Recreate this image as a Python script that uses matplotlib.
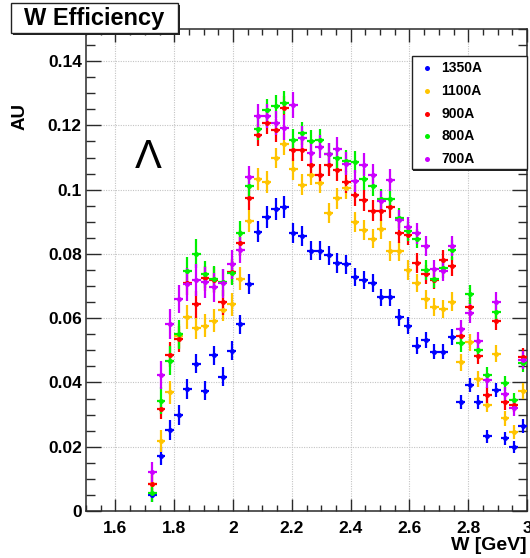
import matplotlib
matplotlib.use("Agg")
import matplotlib.pyplot as plt
from matplotlib.patches import Rectangle
from matplotlib.lines import Line2D
from matplotlib.ticker import MultipleLocator, FixedLocator

plt.rcParams['font.family'] = ['Liberation Sans', 'DejaVu Sans']

# ---- data -------------------------------------------------------------
w_centers = [1.725, 1.755, 1.785, 1.815, 1.845, 1.875, 1.905, 1.935, 1.965, 1.995,
             2.025, 2.055, 2.085, 2.115, 2.145, 2.175, 2.205, 2.235, 2.265, 2.295,
             2.325, 2.355, 2.385, 2.415, 2.445, 2.475, 2.505, 2.535, 2.565, 2.595,
             2.625, 2.655, 2.685, 2.715, 2.745, 2.775, 2.805, 2.835, 2.865, 2.895,
             2.925, 2.955, 2.985]
bin_half_width = 0.015

series_labels = ["1350A", "1100A", "900A", "800A", "700A"]
series_colors = ["#0000ff", "#ffc400", "#ff0000", "#00f000", "#cc00ff"]

eff_1350 = [0.0050, 0.0172, 0.0252, 0.0299, 0.0380, 0.0458, 0.0374, 0.0484, 0.0418, 0.0499,
            0.0581, 0.0705, 0.0869, 0.0915, 0.0939, 0.0947, 0.0866, 0.0855, 0.0810, 0.0810,
            0.0796, 0.0772, 0.0768, 0.0729, 0.0719, 0.0710, 0.0665, 0.0665, 0.0603, 0.0577,
            0.0515, 0.0532, 0.0496, 0.0496, 0.0542, 0.0340, 0.0392, 0.0340, 0.0232, 0.0376,
            0.0226, 0.0200, 0.0265]
eff_1100 = [0.0085, 0.0218, 0.0369, 0.0544, 0.0603, 0.0570, 0.0576, 0.0592, 0.0627, 0.0643,
            0.0723, 0.0903, 0.1032, 0.1024, 0.1099, 0.1141, 0.1064, 0.1015, 0.1047, 0.1022,
            0.0928, 0.0973, 0.1004, 0.0900, 0.0874, 0.0848, 0.0877, 0.0809, 0.0808, 0.0750,
            0.0710, 0.0659, 0.0635, 0.0628, 0.0651, 0.0463, 0.0525, 0.0411, 0.0330, 0.0490,
            0.0288, 0.0246, 0.0373]
eff_900 = [0.0084, 0.0317, 0.0487, 0.0535, 0.0711, 0.0644, 0.0724, 0.0718, 0.0649, 0.0745,
           0.0835, 0.0973, 0.1170, 0.1208, 0.1185, 0.1254, 0.1123, 0.1123, 0.1077, 0.1047,
           0.1078, 0.1061, 0.1024, 0.0983, 0.0967, 0.0934, 0.0935, 0.0945, 0.0864, 0.0858,
           0.0772, 0.0737, 0.0719, 0.0781, 0.0762, 0.0545, 0.0635, 0.0483, 0.0361, 0.0592,
           0.0338, 0.0330, 0.0480]
eff_800 = [0.0055, 0.0343, 0.0467, 0.0550, 0.0746, 0.0801, 0.0736, 0.0722, 0.0712, 0.0742,
           0.0864, 0.1010, 0.1190, 0.1249, 0.1260, 0.1271, 0.1155, 0.1175, 0.1150, 0.1154,
           0.1110, 0.1097, 0.1090, 0.1085, 0.1032, 0.1012, 0.0970, 0.0970, 0.0912, 0.0870,
           0.0848, 0.0750, 0.0722, 0.0755, 0.0812, 0.0523, 0.0674, 0.0501, 0.0423, 0.0618,
           0.0397, 0.0345, 0.0460]
eff_700 = [0.0120, 0.0423, 0.0581, 0.0659, 0.0705, 0.0718, 0.0712, 0.0696, 0.0708, 0.0768,
           0.0812, 0.1039, 0.1229, 0.1230, 0.1208, 0.1193, 0.1263, 0.1161, 0.1115, 0.1133,
           0.1110, 0.1128, 0.1081, 0.1026, 0.1078, 0.1045, 0.0964, 0.1030, 0.0905, 0.0884,
           0.0864, 0.0825, 0.0752, 0.0747, 0.0825, 0.0565, 0.0615, 0.0530, 0.0407, 0.0651,
           0.0364, 0.0319, 0.0470]

err_1350 = [0.0022, 0.0028, 0.0030, 0.0030, 0.0030, 0.0030, 0.0030, 0.0030, 0.0030, 0.0030,
            0.0030, 0.0031, 0.0033, 0.0033, 0.0034, 0.0034, 0.0031, 0.0031, 0.0030, 0.0030,
            0.0030, 0.0030, 0.0030, 0.0028, 0.0028, 0.0028, 0.0027, 0.0027, 0.0026, 0.0026,
            0.0025, 0.0025, 0.0024, 0.0024, 0.0025, 0.0022, 0.0023, 0.0022, 0.0020, 0.0022,
            0.0020, 0.0019, 0.0021]
err_1100 = [0.0026, 0.0034, 0.0036, 0.0038, 0.0038, 0.0036, 0.0036, 0.0036, 0.0036, 0.0036,
            0.0036, 0.0034, 0.0034, 0.0034, 0.0032, 0.0034, 0.0033, 0.0033, 0.0033, 0.0033,
            0.0032, 0.0032, 0.0032, 0.0031, 0.0031, 0.0031, 0.0031, 0.0030, 0.0030, 0.0030,
            0.0029, 0.0029, 0.0028, 0.0028, 0.0029, 0.0026, 0.0027, 0.0025, 0.0023, 0.0027,
            0.0022, 0.0021, 0.0025]
err_900 = [0.0028, 0.0030, 0.0038, 0.0040, 0.0040, 0.0042, 0.0040, 0.0040, 0.0040, 0.0040,
           0.0040, 0.0036, 0.0034, 0.0036, 0.0036, 0.0036, 0.0035, 0.0035, 0.0035, 0.0034,
           0.0034, 0.0034, 0.0034, 0.0033, 0.0033, 0.0033, 0.0032, 0.0032, 0.0031, 0.0031,
           0.0030, 0.0030, 0.0029, 0.0030, 0.0030, 0.0027, 0.0028, 0.0026, 0.0024, 0.0028,
           0.0023, 0.0023, 0.0026]
err_800 = [0.0028, 0.0042, 0.0045, 0.0045, 0.0045, 0.0045, 0.0042, 0.0042, 0.0042, 0.0040,
           0.0037, 0.0036, 0.0035, 0.0034, 0.0036, 0.0036, 0.0035, 0.0035, 0.0035, 0.0035,
           0.0034, 0.0034, 0.0034, 0.0034, 0.0033, 0.0033, 0.0032, 0.0032, 0.0031, 0.0031,
           0.0031, 0.0030, 0.0029, 0.0030, 0.0030, 0.0027, 0.0029, 0.0026, 0.0024, 0.0029,
           0.0024, 0.0023, 0.0026]
err_700 = [0.0032, 0.0044, 0.0047, 0.0044, 0.0050, 0.0050, 0.0048, 0.0046, 0.0046, 0.0045,
           0.0040, 0.0034, 0.0038, 0.0038, 0.0038, 0.0038, 0.0040, 0.0037, 0.0036, 0.0036,
           0.0036, 0.0036, 0.0035, 0.0034, 0.0035, 0.0034, 0.0033, 0.0034, 0.0032, 0.0032,
           0.0032, 0.0031, 0.0030, 0.0030, 0.0031, 0.0028, 0.0029, 0.0027, 0.0024, 0.0030,
           0.0023, 0.0022, 0.0027]

series_values = [eff_1350, eff_1100, eff_900, eff_800, eff_700]
series_errors = [err_1350, err_1100, err_900, err_800, err_700]

x_ticks = [1.6, 1.8, 2.0, 2.2, 2.4, 2.6, 2.8, 3.0]
x_tick_labels = ["1.6", "1.8", "2", "2.2", "2.4", "2.6", "2.8", "3"]
y_ticks = [0.0, 0.02, 0.04, 0.06, 0.08, 0.10, 0.12, 0.14]
y_tick_labels = ["0", "0.02", "0.04", "0.06", "0.08", "0.1", "0.12", "0.14"]

title_text = "W Efficiency"
x_title = "W [GeV]"
y_title = "AU"
particle_label = "Λ"

# ---- figure -----------------------------------------------------------
W_PX, H_PX = 530, 558
fig = plt.figure(figsize=(W_PX / 100, H_PX / 100), dpi=100)
fig.patch.set_facecolor("white")


def fx(px):
    return px / W_PX


def fy(py):
    return 1 - py / H_PX


ax_left, ax_right, ax_top, ax_bottom = 86, 527, 29, 511
ax = fig.add_axes([fx(ax_left), fy(ax_bottom),
                   (ax_right - ax_left) / W_PX, (ax_bottom - ax_top) / H_PX])
ax.set_xlim(1.5, 3.0)
ax.set_ylim(0, 0.15)

frame_col = "#2a2a2a"
for sp in ax.spines.values():
    sp.set_linewidth(1.1)
    sp.set_color(frame_col)

ax.xaxis.set_major_locator(FixedLocator(x_ticks))
ax.set_xticklabels(x_tick_labels)
ax.yaxis.set_major_locator(FixedLocator(y_ticks))
ax.set_yticklabels(y_tick_labels)
ax.xaxis.set_minor_locator(MultipleLocator(0.05))
ax.yaxis.set_minor_locator(MultipleLocator(0.005))

ax.tick_params(axis="both", which="both", direction="in", top=True, right=True,
               color=frame_col, width=1.0)
ax.tick_params(axis="x", which="major", length=9, pad=7)
ax.tick_params(axis="x", which="minor", length=4.3)
ax.tick_params(axis="y", which="major", length=11, pad=3)
ax.tick_params(axis="y", which="minor", length=6.3)
for lab in ax.get_xticklabels() + ax.get_yticklabels():
    lab.set_fontsize(12.5)
    lab.set_fontweight("bold")

ax.grid(True, which="major", color="#c4c4c4", linestyle=(0, (1, 1.2)), linewidth=0.8)
ax.set_axisbelow(True)

# data points with error bars
for vals, errs, col in zip(series_values, series_errors, series_colors):
    ax.errorbar(w_centers, vals, yerr=errs, xerr=bin_half_width, fmt="o",
                color=col, ecolor=col, markersize=3.6, markeredgewidth=0,
                elinewidth=1.6, capsize=0, zorder=3, clip_on=True)

# axis titles
fig.text(fx(527), fy(546), x_title, ha="right", va="center",
         fontsize=14, fontweight="bold")
fig.text(fx(20), fy(117), y_title, ha="center", va="center", rotation=90,
         fontsize=13.5, fontweight="bold")

# particle label
fig.text(fx(148), fy(168), particle_label, ha="center", va="baseline",
         fontsize=29, fontweight="normal")

# title box
shadow_px = 2
fig.add_artist(Rectangle((fx(11 + shadow_px), fy(33.3 + shadow_px)),
                         (177.7 - 11) / W_PX, (33.3 - 3.3) / H_PX,
                         transform=fig.transFigure, facecolor="#222222",
                         edgecolor="none", zorder=5))
fig.add_artist(Rectangle((fx(11), fy(33.3)), (177.7 - 11) / W_PX, (33.3 - 3.3) / H_PX,
                         transform=fig.transFigure, facecolor="white",
                         edgecolor="#222222", linewidth=1.0, zorder=6))
fig.text(fx(94), fy(25), title_text, ha="center", va="baseline",
         fontsize=17, fontweight="bold", zorder=7)

# legend box
lg_l, lg_t, lg_r, lg_b = 411.7, 56, 526.5, 169
fig.add_artist(Rectangle((fx(lg_l + 1.5), fy(lg_b + 1.5)), (lg_r - lg_l) / W_PX,
                         (lg_b - lg_t) / H_PX, transform=fig.transFigure,
                         facecolor="#222222", edgecolor="none", zorder=5))
fig.add_artist(Rectangle((fx(lg_l), fy(lg_b)), (lg_r - lg_l) / W_PX,
                         (lg_b - lg_t) / H_PX, transform=fig.transFigure,
                         facecolor="white", edgecolor="#222222", linewidth=1.0,
                         zorder=6))
row0, row_step = 68.3, 22.7
for i, (lab, col) in enumerate(zip(series_labels, series_colors)):
    yy = row0 + i * row_step
    fig.add_artist(Line2D([fx(426.7)], [fy(yy)], transform=fig.transFigure,
                          marker="o", markersize=3.6, markeredgewidth=0,
                          color=col, linestyle="none", zorder=7))
    fig.text(fx(441), fy(yy), lab, ha="left", va="center",
             fontsize=10, fontweight="bold", zorder=7)

fig.savefig("out.png", dpi=100)
